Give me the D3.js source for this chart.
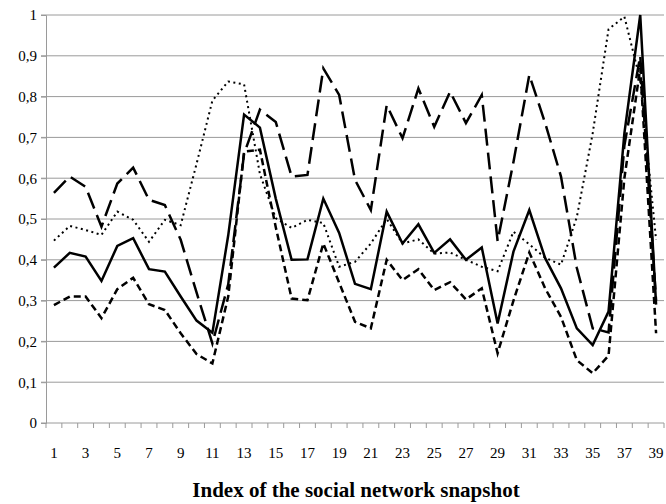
<!DOCTYPE html>
<html>
<head>
<meta charset="utf-8">
<script src="https://cdn.jsdelivr.net/npm/d3@7"></script>
<style>
  body { margin: 0; background: #fff; }
  svg text { font-family: "Liberation Serif", "Times New Roman", serif !important; }
</style>
</head>
<body>
<svg id="chart" width="666" height="504"></svg>
<script>
const snapshots = d3.range(1, 40);
const yTicks = [0, 0.1, 0.2, 0.3, 0.4, 0.5, 0.6, 0.7, 0.8, 0.9, 1];

const solidSeries = [0.381, 0.417, 0.408, 0.348, 0.434, 0.453, 0.377, 0.371, 0.31, 0.251,
  0.221, 0.46, 0.756, 0.724, 0.55, 0.4, 0.401, 0.55, 0.466, 0.341,
  0.328, 0.518, 0.44, 0.487, 0.417, 0.45, 0.4, 0.43, 0.244, 0.42,
  0.522, 0.404, 0.33, 0.232, 0.191, 0.273, 0.71, 1.0, 0.29];
const longDashSeries = [0.564, 0.604, 0.579, 0.481, 0.587, 0.626, 0.547, 0.534, 0.449, 0.32,
  0.195, 0.34, 0.66, 0.768, 0.738, 0.604, 0.608, 0.869, 0.804, 0.596,
  0.522, 0.779, 0.698, 0.82, 0.726, 0.812, 0.735, 0.804, 0.446, 0.64,
  0.853, 0.735, 0.604, 0.38, 0.232, 0.222, 0.68, 0.9, 0.3];
const dottedSeries = [0.447, 0.483, 0.473, 0.461, 0.518, 0.498, 0.444, 0.498, 0.485, 0.635,
  0.79, 0.837, 0.83, 0.61, 0.502, 0.478, 0.498, 0.49, 0.383, 0.395,
  0.44, 0.5, 0.44, 0.45, 0.415, 0.418, 0.4, 0.383, 0.372, 0.469,
  0.438, 0.405, 0.388, 0.505, 0.71, 0.965, 0.996, 0.84, 0.449];
const shortDashSeries = [0.289, 0.31, 0.31, 0.257, 0.328, 0.356, 0.291, 0.277, 0.22, 0.169,
  0.146, 0.31, 0.665, 0.67, 0.48, 0.305, 0.301, 0.44, 0.344, 0.248,
  0.232, 0.4, 0.35, 0.377, 0.326, 0.345, 0.303, 0.33, 0.171, 0.3,
  0.418, 0.33, 0.26, 0.154, 0.122, 0.165, 0.6, 0.87, 0.22];

const series = [
  { values: dottedSeries, dash: '2,3.5', width: 2 },
  { values: shortDashSeries, dash: '7,4', width: 2.5 },
  { values: longDashSeries, dash: '17,7', width: 2.5 },
  { values: solidSeries, dash: null, width: 2.5 }
];

const svg = d3.select('#chart');
const plotLeft = 46, plotRight = 664, plotTop = 15, plotBottom = 423;
const serif = '"Liberation Serif", "Times New Roman", serif';

const x = d3.scaleBand()
  .domain(snapshots)
  .range([plotLeft, plotRight]);

const y = d3.scaleLinear()
  .domain([0, 1])
  .range([plotBottom, plotTop]);

// gridlines
svg.append('g')
  .selectAll('line')
  .data(yTicks.slice(1))
  .enter()
  .append('line')
  .attr('x1', plotLeft - 5)
  .attr('x2', plotRight)
  .attr('y1', d => y(d))
  .attr('y2', d => y(d))
  .style('stroke', '#9a9a9a')
  .style('stroke-width', 1);

// y axis
const yAxis = svg.append('g')
  .attr('transform', `translate(${plotLeft}, 0)`)
  .call(d3.axisLeft(y).tickValues(yTicks).tickSize(5).tickPadding(4)
    .tickFormat(d => d3.format('.1f')(d).replace('.', ',').replace(/^0,0$/, '0').replace(/^1,0$/, '1')));
yAxis.attr('font-family', serif);
yAxis.select('.domain').style('stroke', '#9a9a9a');
yAxis.selectAll('line').style('stroke', '#9a9a9a');
yAxis.selectAll('text')
  .style('font-family', serif)
  .style('font-size', '15px')
  .style('fill', '#000');

// x axis: tick marks on category boundaries
const xAxis = svg.append('g')
  .attr('transform', `translate(0, ${plotBottom})`);
xAxis.append('line')
  .attr('x1', plotLeft - 5)
  .attr('x2', plotRight)
  .style('stroke', '#9a9a9a');
xAxis.selectAll('.tick-mark')
  .data(snapshots.concat([40]))
  .enter()
  .append('line')
  .attr('x1', d => d === 40 ? plotRight : x(d))
  .attr('x2', d => d === 40 ? plotRight : x(d))
  .attr('y1', 0)
  .attr('y2', 5)
  .style('stroke', '#9a9a9a');
xAxis.selectAll('.tick-label')
  .data(snapshots.filter(d => d % 2 === 1))
  .enter()
  .append('text')
  .attr('x', d => x(d) + x.bandwidth() / 2)
  .attr('y', 35)
  .attr('text-anchor', 'middle')
  .style('font-family', serif)
  .style('font-size', '15px')
  .text(d => d);

const line = d3.line()
  .x((d, i) => x(snapshots[i]) + x.bandwidth() / 2)
  .y(d => y(d));

svg.append('g')
  .selectAll('path')
  .data(series)
  .enter()
  .append('path')
  .attr('d', d => line(d.values))
  .style('fill', 'none')
  .style('stroke', '#000')
  .style('stroke-width', d => d.width)
  .style('stroke-dasharray', d => d.dash)
  .style('stroke-linejoin', 'miter');

svg.append('text')
  .attr('x', 356)
  .attr('y', 497)
  .attr('text-anchor', 'middle')
  .style('font-family', serif)
  .style('font-size', '21px')
  .style('font-weight', 'bold')
  .text('Index of the social network snapshot');
</script>
</body>
</html>
